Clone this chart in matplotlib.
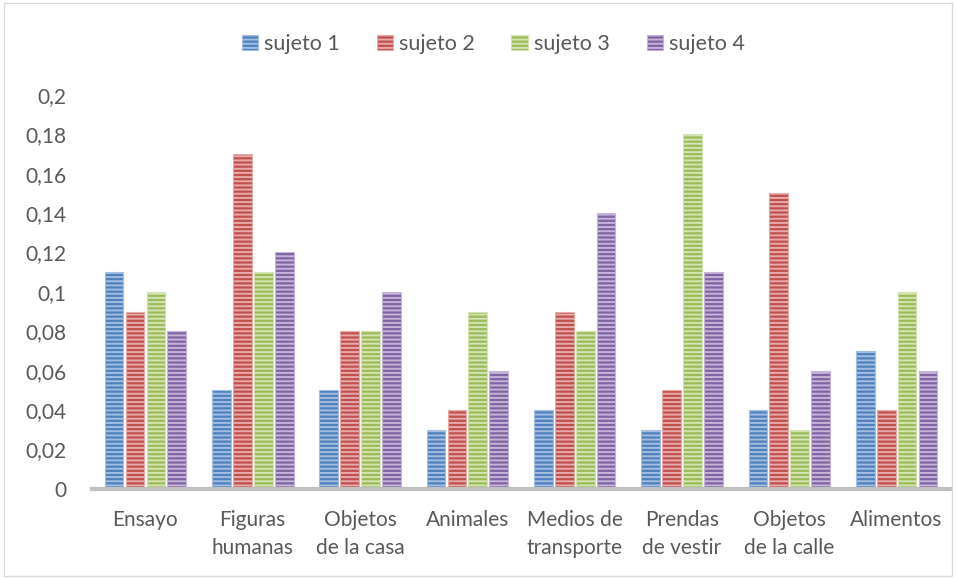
import numpy as np
import matplotlib
matplotlib.use("Agg")
import matplotlib.pyplot as plt
from matplotlib.patches import Rectangle

plt.rcParams['font.family'] = ['Lato', 'DejaVu Sans']
plt.rcParams['hatch.linewidth'] = 1.4

categorias = ["Ensayo", "Figuras\nhumanas", "Objetos\nde la casa", "Animales",
              "Medios de\ntransporte", "Prendas\nde vestir", "Objetos\nde la calle", "Alimentos"]
series = ["sujeto 1", "sujeto 2", "sujeto 3", "sujeto 4"]
sujeto1 = [0.11, 0.05, 0.05, 0.03, 0.04, 0.03, 0.04, 0.07]
sujeto2 = [0.09, 0.17, 0.08, 0.04, 0.09, 0.05, 0.15, 0.04]
sujeto3 = [0.10, 0.11, 0.08, 0.09, 0.08, 0.18, 0.03, 0.10]
sujeto4 = [0.08, 0.12, 0.10, 0.06, 0.14, 0.11, 0.06, 0.06]
yticks = [0, 0.02, 0.04, 0.06, 0.08, 0.1, 0.12, 0.14, 0.16, 0.18, 0.2]
yticklabels = ["0", "0,02", "0,04", "0,06", "0,08", "0,1", "0,12", "0,14", "0,16", "0,18", "0,2"]

colores = ["#4F81BD", "#C0504D", "#9BBB59", "#8064A2"]
claros = ["#A3BEE0", "#E6ABA9", "#D3E3B2", "#C4B4D9"]
texto = "#595959"

fig = plt.figure(figsize=(9.56, 5.78), dpi=100)
fig.patches.append(Rectangle((0.004, 0.004), 0.992, 0.990, transform=fig.transFigure,
                             fill=False, edgecolor="#D9D9D9", linewidth=1))
ax = fig.add_axes([0.096, 0.154, 0.898, 0.682])

x = np.arange(len(categorias))
ancho = 0.175
paso = 0.195
datos = [sujeto1, sujeto2, sujeto3, sujeto4]
for i, vals in enumerate(datos):
    ax.bar(x + (i - 1.5) * paso, vals, ancho, color=colores[i], edgecolor=claros[i],
           linewidth=0.8, hatch="----", label=series[i], zorder=2)

ax.set_xlim(-0.5, len(categorias) - 0.5)
ax.set_ylim(0, 0.2)
ax.set_yticks(yticks)
ax.set_yticklabels(yticklabels)
ax.set_xticks(x)
ax.set_xticklabels(categorias, linespacing=1.5)
ax.tick_params(axis='both', length=0, labelsize=15, colors=texto)
ax.tick_params(axis='x', pad=15)
ax.tick_params(axis='y', pad=18)
for s in ["top", "right", "left"]:
    ax.spines[s].set_visible(False)
ax.spines["bottom"].set_color("#BFBFBF")
ax.spines["bottom"].set_linewidth(3)
ax.spines["bottom"].set_zorder(3)

leg = fig.legend(loc="center", bbox_to_anchor=(0.516, 0.924), ncol=4, frameon=False,
                 fontsize=15.5, handlelength=0.75, handleheight=0.75, handletextpad=0.3,
                 columnspacing=1.7)
for t in leg.get_texts():
    t.set_color(texto)

fig.savefig("out.png", dpi=100)
